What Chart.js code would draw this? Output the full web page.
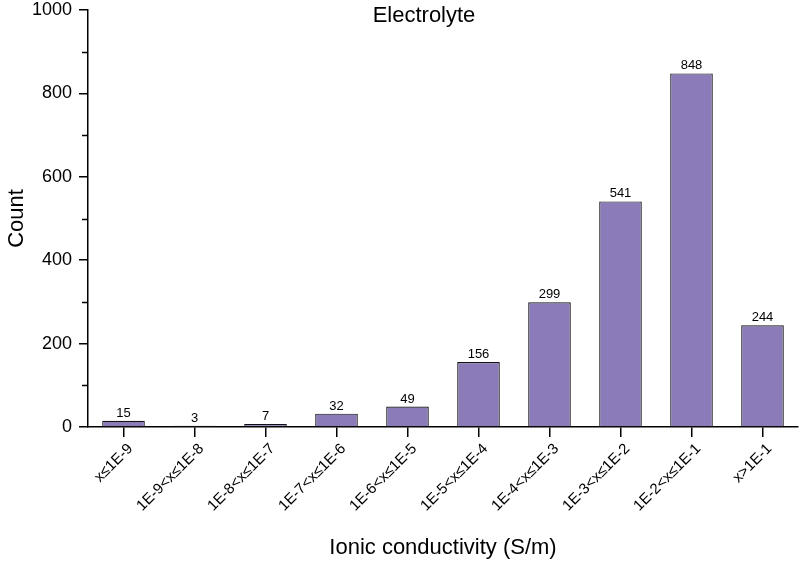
<!DOCTYPE html>
<html>
<head>
<meta charset="utf-8">
<script src="https://cdn.jsdelivr.net/npm/chart.js@4/dist/chart.umd.min.js"></script>
<style>
  html, body { margin: 0; padding: 0; background: #fff; }
  #wrap { width: 800px; height: 562px; position: relative; }
</style>
</head>
<body>
<div id="wrap"><canvas id="chart"></canvas></div>
<script>
// data
const categories = ['x≤1E-9', '1E-9<x≤1E-8', '1E-8<x≤1E-7', '1E-7<x≤1E-6', '1E-6<x≤1E-5',
  '1E-5<x≤1E-4', '1E-4<x≤1E-3', '1E-3<x≤1E-2', '1E-2<x≤1E-1', 'x>1E-1'];
const counts = [15, 3, 7, 32, 49, 156, 299, 541, 848, 244];
const yMajorTicks = [0, 200, 400, 600, 800, 1000];
const yMinorTicks = [100, 300, 500, 700, 900];

const FONT = "'Liberation Sans', Arial, sans-serif";

// title drawn inside the plot, value labels on bars, minor y ticks
const extras = {
  id: 'extras',
  afterDatasetsDraw(chart) {
    const ctx = chart.ctx;
    const meta = chart.getDatasetMeta(0);
    ctx.save();
    ctx.fillStyle = '#000';
    ctx.font = '13px ' + FONT;
    ctx.textAlign = 'center';
    ctx.textBaseline = 'bottom';
    meta.data.forEach((bar, i) => {
      ctx.fillText(String(counts[i]), bar.x, bar.y - 1);
    });

    // minor ticks
    const y = chart.scales.y;
    ctx.strokeStyle = '#000';
    ctx.lineWidth = 1.5;
    yMinorTicks.forEach(v => {
      const py = Math.round(y.getPixelForValue(v)) + 0.5;
      ctx.beginPath();
      ctx.moveTo(chart.chartArea.left - 6, py);
      ctx.lineTo(chart.chartArea.left, py);
      ctx.stroke();
    });

    ctx.font = '22px ' + FONT;
    ctx.textBaseline = 'alphabetic';
    ctx.fillText('Electrolyte', 424, 22);
    ctx.restore();
  }
};

new Chart(document.getElementById('chart'), {
  type: 'bar',
  data: {
    labels: categories,
    datasets: [{
      data: counts,
      backgroundColor: '#8B7CB9',
      borderColor: '#111',
      borderWidth: 1.2,
      barPercentage: 0.6,
      categoryPercentage: 1.0
    }]
  },
  options: {
    responsive: true,
    maintainAspectRatio: false,
    animation: false,
    layout: { padding: { top: 10, right: 2, bottom: 0, left: 0 } },
    plugins: {
      legend: { display: false },
      tooltip: { enabled: false }
    },
    scales: {
      x: {
        grid: { display: true, offset: false, drawOnChartArea: false, tickLength: 10, color: '#000', lineWidth: 1.5 },
        border: { display: true, color: '#000', width: 1.5 },
        ticks: {
          color: '#000',
          font: { family: FONT, size: 15 },
          minRotation: 45,
          maxRotation: 45,
          autoSkip: false,
          padding: 3,
          labelOffset: 7
        },
        title: {
          display: true,
          text: 'Ionic conductivity (S/m)',
          color: '#000',
          font: { family: FONT, size: 22 },
          padding: { top: 4, bottom: 1 }
        },
        afterFit(scale) { scale.height = 135; scale.paddingLeft = 0; scale.paddingRight = 0; }
      },
      y: {
        min: 0,
        max: 1000,
        grid: {
          display: true,
          drawOnChartArea: false,
          tickLength: 9,
          lineWidth: 1.5,
          color: ctx => (ctx.tick && yMajorTicks.includes(ctx.tick.value)) ? '#000' : 'rgba(0,0,0,0)'
        },
        border: { display: true, color: '#000', width: 1.5 },
        ticks: {
          stepSize: 100,
          color: '#000',
          font: { family: FONT, size: 18 },
          padding: 7,
          callback: v => yMajorTicks.includes(v) ? String(v) : ''
        },
        title: {
          display: true,
          text: 'Count',
          color: '#000',
          font: { family: FONT, size: 22 },
          padding: { top: 4, bottom: 0 }
        },
        afterFit(scale) { scale.width = 88; scale.paddingTop = 0; scale.paddingBottom = 0; }
      }
    }
  },
  plugins: [extras]
});
</script>
</body>
</html>
